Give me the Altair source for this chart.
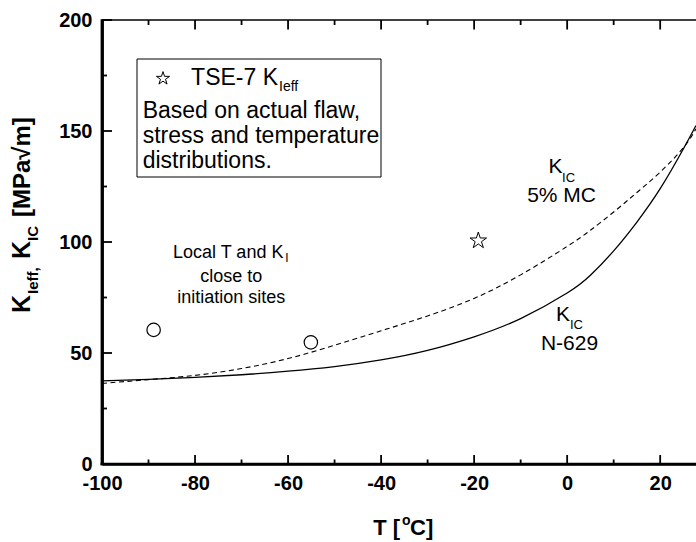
import altair as alt
import pandas as pd

FONT = "Liberation Sans"

# ---- data ----
T_curve = [-100, -90, -80, -70, -60, -50, -40, -30, -20, -10, 0, 5, 10, 15, 20, 25, 27.7]
K_n629 = [37.4, 38.1, 39.0, 40.2, 41.8, 43.9, 46.9, 51.2, 57.3, 65.5, 77.0, 85.0, 96.0, 109.0, 124.0, 142.0, 152.5]
K_mc5 = [36.3, 38.0, 39.9, 43.0, 47.5, 53.5, 60.0, 66.7, 74.6, 85.2, 98.0, 105.3, 113.5, 122.3, 131.5, 142.5, 151.0]

circle_T = [-88.9, -55.1]
circle_K = [60.4, 54.8]
star_T = [-19.1]
star_K = [100.6]

x_major = [-100, -80, -60, -40, -20, 0, 20]
x_minor = [-90, -70, -50, -30, -10, 10]
y_major = [0, 50, 100, 150, 200]
y_minor = [25, 75, 125, 175]

legend_lines = ["Based on actual flaw,", "stress and temperature", "distributions."]
local_lines = ["close to", "initiation sites"]

W, H = 594, 444
STAR = ("M0,-1L0.2245,-0.309L0.951,-0.309L0.363,0.118L0.588,0.809L0,0.382"
        "L-0.588,0.809L-0.363,0.118L-0.951,-0.309L-0.2245,-0.309Z")

xscale = alt.Scale(domain=[-100, 27.7], nice=False, zero=False)
yscale = alt.Scale(domain=[0, 200], nice=False, zero=False)

x_axis = alt.Axis(values=x_major, title=None, ticks=False, grid=False,
                  labelExpr="'' + datum.value",
                  labelFont=FONT, labelFontSize=20, labelFontWeight="bold",
                  labelColor="black", labelPadding=9, labelFlush=False,
                  labelOverlap=False, domainColor="black", domainWidth=2.5)
y_axis = alt.Axis(values=y_major, title=None, ticks=False, grid=False,
                  labelExpr="'' + datum.value",
                  labelFont=FONT, labelFontSize=20, labelFontWeight="bold",
                  labelColor="black", labelPadding=10, labelFlush=False,
                  labelOverlap=False, domainColor="black", domainWidth=2.8)


def X(field="T"):
    return alt.X(f"{field}:Q", scale=xscale, axis=x_axis)


def Y(field="K"):
    return alt.Y(f"{field}:Q", scale=yscale, axis=y_axis)


curves = pd.DataFrame({"T": T_curve, "n629": K_n629, "mc5": K_mc5})

solid = alt.Chart(curves).mark_line(color="black", strokeWidth=1.3, interpolate="natural").encode(
    x=X(), y=Y("n629"))
dashed = alt.Chart(curves).mark_line(color="black", strokeWidth=1.1, strokeDash=[5, 3.5],
                                     interpolate="natural").encode(x=X(), y=Y("mc5"))
circles = alt.Chart(pd.DataFrame({"T": circle_T, "K": circle_K})).mark_point(
    shape="circle", filled=False, size=180, color="black", strokeWidth=1.2, opacity=1).encode(
    x=X(), y=Y())
star = alt.Chart(pd.DataFrame({"T": star_T, "K": star_K})).mark_point(
    shape=STAR, filled=False, size=300, color="black", strokeWidth=1.0, opacity=1).encode(
    x=X(), y=Y())


def xticks(vals, y0, y1):
    return alt.Chart(pd.DataFrame({"T": vals})).mark_rule(color="black", strokeWidth=1.8).encode(
        x=X(), y=alt.value(y0), y2=alt.value(y1))


def yticks(vals, x0, x1):
    return alt.Chart(pd.DataFrame({"K": vals})).mark_rule(color="black", strokeWidth=1.8).encode(
        y=Y(), x=alt.value(x0), x2=alt.value(x1))


ticks = [
    xticks(x_major, H, H - 9), xticks(x_minor, H, H - 4.5),
    xticks(x_major, 0, 9.5), xticks(x_minor, 0, 5),
    yticks(y_major, 0, 10), yticks(y_minor, 0, 5),
]

one = pd.DataFrame({"a": [0]})
top_border = alt.Chart(one).mark_rule(color="black", strokeWidth=1.7).encode(
    x=alt.value(0), x2=alt.value(W), y=alt.value(0))
left_line = alt.Chart(one).mark_rule(color="black", strokeWidth=2.8).encode(
    x=alt.value(0), y=alt.value(-0.85), y2=alt.value(H + 1.25))
bottom_line = alt.Chart(one).mark_rule(color="black", strokeWidth=2.5).encode(
    x=alt.value(-1.4), x2=alt.value(W), y=alt.value(H))

legend_box = alt.Chart(one).mark_rect(fill="white", stroke="black", strokeWidth=1).encode(
    x=alt.value(35), x2=alt.value(279), y=alt.value(39), y2=alt.value(157))
legend_star = alt.Chart(one).mark_point(shape=STAR, filled=False, size=190, color="black",
                                        strokeWidth=1.0, opacity=1).encode(
    x=alt.value(61), y=alt.value(58.5))


def ptext(s, px, py, size, weight="normal", align="left", angle=0):
    return alt.Chart(one).mark_text(font=FONT, fontSize=size, fontWeight=weight, align=align,
                                    baseline="alphabetic", angle=angle, color="black").encode(
        x=alt.value(px), y=alt.value(py), text=alt.value(s))


def dtext(texts, ts, ks, size, align="left"):
    df = pd.DataFrame({"K": ks, "T": ts, "text": texts})
    return alt.Chart(df).mark_text(font=FONT, fontSize=size, align=align,
                                   baseline="alphabetic", color="black").encode(
        x=X(), y=Y(), text="text:N")


texts = [
    # legend box
    ptext("TSE-7 K", 176, 64.5, 23, align="right"),
    ptext("Ieff", 177, 70.5, 14),
    ptext(legend_lines[0], 40.7, 98.3, 23),
    ptext(legend_lines[1], 40.7, 123.3, 23),
    ptext(legend_lines[2], 40.7, 148.3, 23),
    # local annotation
    dtext(["Local T and K"], [-61.0], [92.7], 18, align="right"),
    dtext(["I"], [-60.6], [91.0], 12),
    dtext(local_lines, [-72.2, -72.2], [82.1, 72.4], 18, align="center"),
    # curve labels
    dtext(["K"], [-4.0], [131.2], 21),
    dtext(["IC"], [-1.1], [127.2], 13),
    dtext(["5% MC"], [-1.2], [117.8], 21, align="center"),
    dtext(["K"], [-2.4], [64.5], 21),
    dtext(["IC"], [0.6], [60.7], 13),
    dtext(["N-629"], [0.5], [51.4], 21, align="center"),
    # x-axis title
    ptext("T [", 271.3, 515, 22, weight="bold"),
    ptext("o", 300, 505, 14, weight="bold"),
    ptext("C]", 308, 515, 22, weight="bold"),
    # y-axis title (rotated)
    ptext("K", -72, 293, 25, weight="bold", angle=270),
    ptext("Ieff,", -64, 274, 15, weight="bold", angle=270),
    ptext("K", -72, 239, 25, weight="bold", angle=270),
    ptext("IC", -64, 221, 15, weight="bold", angle=270),
    ptext("[MPa\u221am]", -72, 197, 24, weight="bold", angle=270),
]

chart = alt.layer(
    legend_box, solid, dashed, circles, star, *ticks, top_border, left_line, bottom_line,
    legend_star, *texts
).properties(
    width=W, height=H,
    autosize=alt.AutoSizeParams(type="none"),
    padding={"left": 102, "top": 20, "right": 0, "bottom": 78},
    background="white",
).configure_view(stroke="transparent")

chart.save("out.html", embed_options={"renderer": "svg", "actions": False})
